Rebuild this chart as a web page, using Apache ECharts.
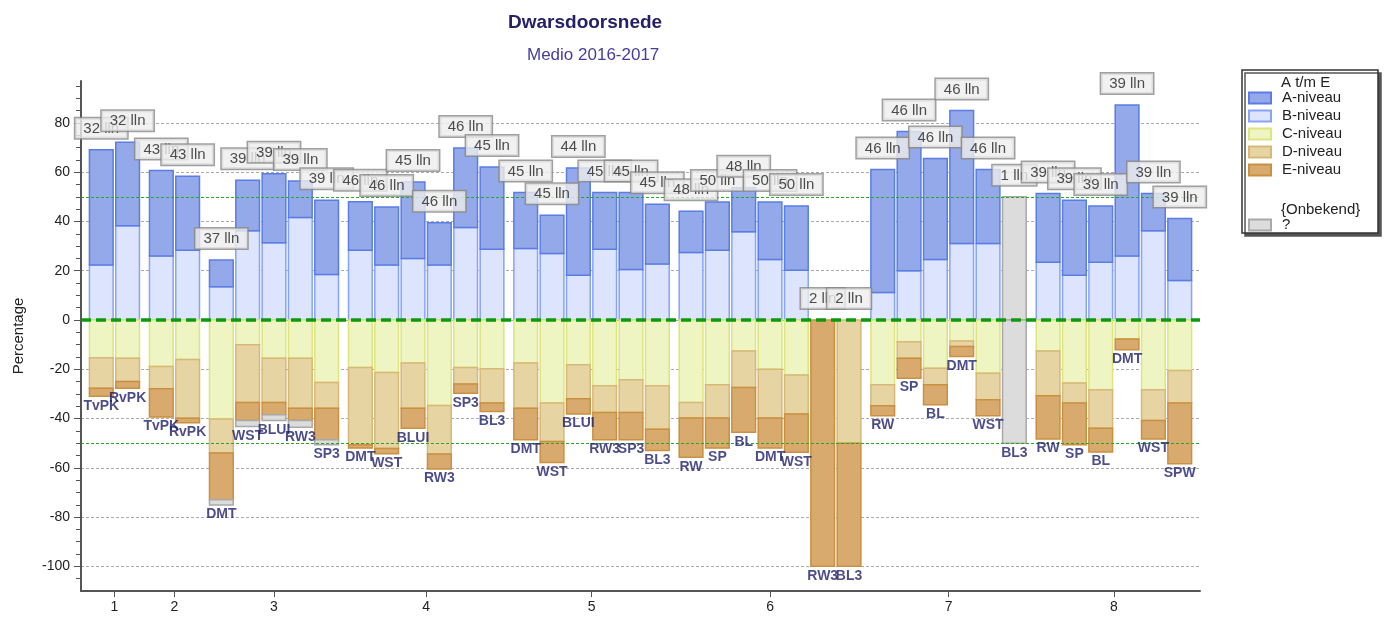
<!DOCTYPE html>
<html>
<head>
<meta charset="utf-8">
<script src="https://cdn.jsdelivr.net/npm/echarts@6/dist/echarts.min.js"></script>
<style>
html, body { margin: 0; padding: 0; background: #fff; }
#chart { width: 1389px; height: 617px; }
</style>
</head>
<body>
<div id="chart"></div>
<script>
// groups on the x axis and the bars inside them
const groupNames = ['1', '2', '3', '4', '5', '6', '7', '8'];
const groupSizes = [2, 2, 5, 6, 6, 7, 6, 6];
const barNames = ['TvPK', 'RvPK', 'TvPK', 'RvPK', 'DMT', 'WST', 'BLUI', 'RW3', 'SP3',
  'DMT', 'WST', 'BLUI', 'RW3', 'SP3', 'BL3', 'DMT', 'WST', 'BLUI', 'RW3', 'SP3', 'BL3',
  'RW', 'SP', 'BL', 'DMT', 'WST', 'RW3', 'BL3', 'RW', 'SP', 'BL', 'DMT', 'WST', 'BL3',
  'RW', 'SP', 'BL', 'DMT', 'WST', 'SPW'];
const llnCounts = [32, 32, 43, 43, 37, 39, 39, 39, 39, 46, 46, 45, 46, 46, 45, 45, 45, 44, 45, 45, 45,
  48, 50, 48, 50, 50, 2, 2, 46, 46, 46, 46, 46, 1, 39, 39, 39, 39, 39, 39];

// percentages per niveau (above zero: B then A, below zero: C, D, E)
const bNiveau = [22.3, 38.2, 26, 28.3, 13.5, 36.2, 31.3, 41.6, 18.5, 28.3, 22.3, 25, 22.3, 37.5, 28.7,
  29, 27, 18.2, 28.7, 20.5, 22.7, 27.4, 28.3, 35.8, 24.6, 20.2, 0, 0, 11.2, 20, 24.6, 31, 31, 0,
  23.4, 18.2, 23.4, 26, 36.2, 16];
const aNiveau = [46.8, 33.9, 34.7, 30, 10.8, 20.5, 28.1, 14.8, 30.1, 19.7, 23.6, 31, 17.2, 32.3, 33.4,
  22.7, 15.5, 43.5, 23, 31.2, 24.3, 16.7, 19.6, 17.9, 23.3, 26.1, 0, 0, 49.9, 56.5, 40.9, 54, 30.1, 0,
  27.9, 30.4, 22.9, 61.3, 15.1, 25.2];
const cNiveau = [-15.3, -15.5, -18.9, -16, -40.2, -10.1, -15.5, -15.5, -25.4, -19.3, -21.3, -17.5, -34.7,
  -19.3, -19.8, -17.5, -33.7, -18.2, -26.7, -24.3, -26.7, -33.5, -26.3, -12.6, -20, -22.3, 0, 0,
  -26.3, -8.8, -19.6, -8.5, -21.6, 0, -12.6, -25.6, -28.3, -7.7, -28.3, -20.5];
const dNiveau = [-12.4, -9.5, -9, -23.9, -13.8, -23.4, -18, -20.3, -10.4, -31.3, -30.9, -18.3, -19.7,
  -6.7, -13.9, -18.3, -15.6, -13.8, -10.8, -13.2, -17.6, -6.3, -13.5, -14.8, -19.8, -15.9, 0, -50,
  -8.5, -6.7, -6.7, -2.3, -10.8, 0, -18.2, -8.1, -15.6, 0, -12.5, -13.2];
const eNiveau = [-3.3, -2.7, -11.5, -1.8, -19, -7.3, -5, -5, -12.8, -1.4, -2.1, -8.1, -6.1, -3.7, -3.4,
  -12.8, -8.5, -6.2, -11.1, -11.1, -8.7, -15.9, -12.2, -18.2, -12.2, -15.5, -100, -50,
  -4.1, -8.1, -8.1, -4, -6.5, 0, -17.5, -16.9, -9.7, -4.4, -7.5, -24.7];
const onbekendPos = [0, 0, 0, 0, 0, 0, 0, 0, 0, 0, 0, 0, 0, 0, 0, 0, 0, 0, 0, 0, 0, 0, 0, 0, 0, 0, 0, 0,
  0, 0, 0, 0, 0, 50, 0, 0, 0, 0, 0, 0];
const onbekendNeg = [0, 0, 0, 0, -2.1, -2.4, -2.3, -2.7, -2, 0, 0, 0, 0, 0, 0, 0, 0, 0, 0, 0, 0, 0, 0, 0, 0, 0, 0, 0,
  0, 0, 0, 0, 0, -50, 0, 0, 0, 0, 0, 0];

const yTicks = [-100, -80, -60, -40, -20, 0, 20, 40, 60, 80];
const refLevels = [50, -50];

// x position of each bar: one unit per bar, small gap between groups
const GROUP_GAP = 0.28;
const xPos = [];
const groupCenters = [];
let slot = 0;
groupSizes.forEach((n, g) => {
  const start = slot + g * GROUP_GAP;
  for (let i = 0; i < n; i++) xPos.push(start + i + 0.5);
  groupCenters.push(start + n / 2);
  slot += n;
});

// stack layers on top of each other -> [x, from, to]
function stack(layers) {
  const base = xPos.map(() => 0);
  return layers.map(vals => vals.map((v, i) => {
    const from = base[i];
    base[i] += v;
    return [xPos[i], from, base[i]];
  }));
}
const [bData, aData, qPosData] = stack([bNiveau, aNiveau, onbekendPos]);
const [cData, dData, eData, qNegData] = stack([cNiveau, dNiveau, eNiveau, onbekendNeg]);
const topVals = qPosData.map(d => d[2]);
const bottomVals = qNegData.map(d => d[2]);

const FONT = "'Liberation Sans', Arial, sans-serif";
const HALF = 0.45;

function segSeries(name, data, fill, stroke) {
  return {
    type: 'custom',
    name: name,
    z: 2,
    itemStyle: { color: fill, borderColor: stroke, borderWidth: 1.5 },
    encode: { x: 0, y: [1, 2] },
    data: data,
    renderItem: function (params, api) {
      const x = api.value(0), y0 = api.value(1), y1 = api.value(2);
      if (y0 === y1) return null;
      const p0 = api.coord([x - HALF, y0]);
      const p1 = api.coord([x + HALF, y1]);
      return {
        type: 'rect',
        shape: {
          x: p0[0], y: Math.min(p0[1], p1[1]),
          width: p1[0] - p0[0], height: Math.abs(p1[1] - p0[1])
        },
        style: { fill: fill, stroke: stroke, lineWidth: 1.5 }
      };
    }
  };
}

const chart = echarts.init(document.getElementById('chart'));
chart.setOption({
  animation: false,
  textStyle: { fontFamily: FONT },
  title: [
    { text: 'Dwarsdoorsnede', left: 503, top: 8,
      textStyle: { fontSize: 19, fontWeight: 'bold', color: '#262066', fontFamily: FONT } },
    { text: 'Medio 2016-2017', left: 522, top: 42,
      textStyle: { fontSize: 17, fontWeight: 'normal', color: '#473c9c', fontFamily: FONT } }
  ],
  grid: { left: 81, right: 189, top: 81, bottom: 26 },
  xAxis: {
    type: 'value',
    min: -0.27,
    max: 42.23,
    splitLine: { show: false },
    axisLine: { onZero: false, lineStyle: { color: '#555', width: 2 } },
    axisTick: { customValues: groupCenters, length: 6, lineStyle: { color: '#555' } },
    axisLabel: {
      customValues: groupCenters,
      fontSize: 14, color: '#222', margin: 9,
      formatter: v => groupNames[groupCenters.findIndex(c => Math.abs(c - v) < 1e-6)]
    }
  },
  yAxis: {
    type: 'value',
    min: -110,
    max: 97,
    splitNumber: 10,
    minInterval: 20,
    maxInterval: 20,
    name: 'Percentage',
    nameLocation: 'middle',
    nameGap: 55,
    nameTextStyle: { fontSize: 15, color: '#222' },
    axisLine: { show: true, onZero: false, lineStyle: { color: '#555', width: 2 } },
    axisTick: { show: true, customValues: yTicks, length: 7, lineStyle: { color: '#555' } },
    minorTick: { show: true, splitNumber: 4, length: 5, lineStyle: { color: '#555' } },
    axisLabel: { customValues: yTicks, fontSize: 14, color: '#222', margin: 11 },
    splitLine: { show: true, showMinLine: true, showMaxLine: true,
      lineStyle: { color: '#aaa', type: [3, 2] } }
  },
  legend: [
    {
      orient: 'vertical', left: 1248, top: 89, padding: 0,
      itemWidth: 22, itemHeight: 11, itemGap: 0, icon: 'rect', selectedMode: false,
      textStyle: { fontSize: 15, color: '#222', lineHeight: 18, padding: [0, 0, 0, 6] },
      data: ['A-niveau', 'B-niveau', 'C-niveau', 'D-niveau', 'E-niveau']
    },
    {
      orient: 'vertical', left: 1248, top: 216, padding: 0,
      itemWidth: 22, itemHeight: 11, icon: 'rect', selectedMode: false,
      textStyle: { fontSize: 15, color: '#222', lineHeight: 18, padding: [0, 0, 0, 6] },
      data: ['?']
    }
  ],
  graphic: [
    { type: 'rect', z: 1, shape: { x: 1242, y: 70, width: 136, height: 163 },
      style: { fill: '#fff', stroke: '#333', lineWidth: 1.5,
        shadowColor: '#555', shadowOffsetX: 3, shadowOffsetY: 3, shadowBlur: 0 } },
    { type: 'text', z: 10, x: 1281, y: 83,
      style: { text: 'A t/m E', font: '15px ' + FONT, fill: '#222', textVerticalAlign: 'middle' } },
    { type: 'text', z: 10, x: 1281, y: 210,
      style: { text: '{Onbekend}', font: '15px ' + FONT, fill: '#222', textVerticalAlign: 'middle' } }
  ],
  series: [
    segSeries('B-niveau', bData, '#dce5fd', '#88a4f7'),
    segSeries('A-niveau', aData, '#94a9e9', '#5a7de3'),
    segSeries('?', qPosData, '#dcdcdc', '#a9a9a9'),
    segSeries('C-niveau', cData, '#eef4c2', '#dde57f'),
    segSeries('D-niveau', dData, '#e6d4a2', '#d7b877'),
    segSeries('E-niveau', eData, '#d8aa6e', '#c99040'),
    segSeries('?', qNegData, '#dcdcdc', '#a9a9a9'),
    {
      type: 'scatter',
      name: 'onderlabels',
      z: 6,
      symbolSize: 1,
      silent: true,
      itemStyle: { color: 'rgba(0,0,0,0)' },
      data: xPos.map((x, i) => [x, bottomVals[i]]),
      label: {
        show: true, position: 'bottom', distance: 2,
        fontSize: 14, fontWeight: 'bold', color: '#1f1f6a', fontFamily: FONT,
        formatter: p => barNames[p.dataIndex]
      },
      markLine: {
        silent: true, symbol: 'none', label: { show: false },
        lineStyle: { color: '#22a822', width: 1, type: [3, 2] },
        data: [
          { yAxis: 0, lineStyle: { color: '#0a9a0a', width: 3.5, type: [10, 5] } }
        ].concat(refLevels.map(v => ({ yAxis: v, lineStyle: { color: '#22a822', width: 1, type: [3, 2] } })))
      }
    },
    {
      type: 'scatter',
      name: 'aantallen',
      z: 7,
      symbolSize: 1,
      silent: true,
      itemStyle: { color: 'rgba(0,0,0,0)' },
      data: xPos.map((x, i) => [x, topVals[i]]),
      label: {
        show: true, position: 'top', distance: 11,
        fontSize: 15, color: '#222', fontFamily: FONT,
        backgroundColor: '#eeeeee', borderColor: '#888', borderWidth: 1.5,
        padding: [3, 8, 2, 8],
        formatter: p => llnCounts[p.dataIndex] + ' lln'
      }
    }
  ]
});
</script>
</body>
</html>
